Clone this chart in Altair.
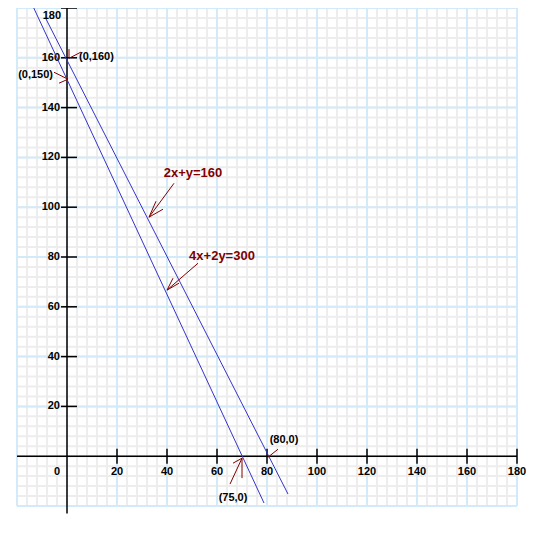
import altair as alt
import pandas as pd

# ---------------- data ----------------
# grid
minor_ticks = list(range(-20, 181, 4))
major_ticks = list(range(-20, 181, 20))
axis_ticks = [20, 40, 60, 80, 100, 120, 140, 160, 180]
x_labels = ["20", "40", "60", "80", "100", "120", "140", "160", "180"]
y_labels = ["20", "40", "60", "80", "100", "120", "140", "160", "180"]

# the two drawn lines (end points)
line_names = ["4x+2y=300", "4x+2y=300", "2x+y=160", "2x+y=160"]
line_x = [-14.4, 78.8, -8.4, 88.4]
line_y = [182.4, -18.8, 175.6, -15.2]

# annotation arrows: segments (x1, y1) -> (x2, y2)
arrow_x1 = [0.8, 0.8, 0.4, 0.4, 70.0, 70.0, 70.0, 80.4, 32.8, 32.8, 32.8, 40.0, 40.0, 40.0]
arrow_y1 = [159.8, 159.8, 151.4, 151.4, -0.8, -0.8, -0.8, -0.4, 96.0, 96.0, 96.0, 66.7, 66.7, 66.7]
arrow_x2 = [0.8, 5.6, -5.2, -3.2, 65.2, 70.0, 66.4, 84.4, 42.8, 35.6, 38.4, 52.4, 42.4, 44.8]
arrow_y2 = [163.5, 162.3, 154.2, 149.8, -11.2, -8.8, -2.8, 2.8, 109.6, 102.4, 99.2, 77.5, 71.5, 69.5]

# point labels
pt_text = ["(0,160)", "(0,150)", "(75,0)", "(80,0)"]
pt_x = [4.8, -5.6, 66.4, 86.8]
pt_y = [160.2, 153.0, -16.9, 6.4]
pt_align = ["left", "right", "center", "center"]

# equation labels
eq_text = ["2x+y=160", "4x+2y=300"]
eq_x = [50.4, 62.0]
eq_y = [113.7, 80.3]

# ---------------- chart ----------------
XS = alt.Scale(domain=[-20, 180], nice=False, zero=False)
YS = alt.Scale(domain=[-20, 180], nice=False, zero=False)
FONT = "Liberation Sans"


def X(f):
    return alt.X(f, type="quantitative", scale=XS, axis=None)


def Y(f):
    return alt.Y(f, type="quantitative", scale=YS, axis=None)


def grid_layer(vals, color, width):
    dv = pd.DataFrame({"v": vals, "lo": -20, "hi": 180})
    v = alt.Chart(dv).mark_rule(color=color, strokeWidth=width).encode(
        x=X("v"), y=Y("lo"), y2="hi")
    h = alt.Chart(dv).mark_rule(color=color, strokeWidth=width).encode(
        y=Y("v"), x=X("lo"), x2="hi")
    return v + h


minor = grid_layer(minor_ticks, "#ededed", 2)
major = grid_layer(major_ticks, "#d3eaf8", 2)

axes_df = pd.DataFrame({"x1": [-20, 0], "y1": [0, 180], "x2": [180, 0], "y2": [0, -23]})
axes = alt.Chart(axes_df).mark_rule(color="black", strokeWidth=1.5).encode(
    x=X("x1"), y=Y("y1"), x2="x2", y2="y2")

tk = pd.DataFrame({"v": axis_ticks, "xl": x_labels, "yl": y_labels,
                   "lo_x": -2.4, "hi_x": 4.0, "lo_y": -3.0, "hi_y": 3.0, "zero": 0})
yticks = alt.Chart(tk).mark_rule(color="black", strokeWidth=1.5).encode(
    y=Y("v"), x=X("lo_x"), x2="hi_x")
xticks = alt.Chart(tk).mark_rule(color="black", strokeWidth=1.5).encode(
    x=X("v"), y=Y("lo_y"), y2="hi_y")

xlab = alt.Chart(tk).mark_text(font=FONT, fontSize=11, fontWeight="bold", color="black",
                               align="center", baseline="middle", dy=16).encode(
    x=X("v"), y=Y("zero"), text="xl:N")
ylab = alt.Chart(tk[tk["v"] < 180]).mark_text(
    font=FONT, fontSize=11, fontWeight="bold", color="black",
    align="right", baseline="middle", dx=-7).encode(
    x=X("zero"), y=Y("v"), text="yl:N")
ylab_top = alt.Chart(tk[tk["v"] == 180]).mark_text(
    font=FONT, fontSize=11, fontWeight="bold", color="black",
    align="right", baseline="top", dx=-6, dy=2).encode(
    x=X("zero"), y=Y("v"), text="yl:N")
origin = alt.Chart(pd.DataFrame({"z": [0], "t": ["0"]})).mark_text(
    font=FONT, fontSize=11, fontWeight="bold", color="black",
    align="center", baseline="middle", dx=-10, dy=16).encode(
    x=X("z"), y=Y("z"), text="t:N")

ld = pd.DataFrame({"name": line_names, "x": line_x, "y": line_y})
lines = alt.Chart(ld).mark_line(color="#3333cc", strokeWidth=1).encode(
    x=X("x"), y=Y("y"), detail="name:N")

ad = pd.DataFrame({"x1": arrow_x1, "y1": arrow_y1, "x2": arrow_x2, "y2": arrow_y2})
arrows = alt.Chart(ad).mark_rule(color="#800000", strokeWidth=1).encode(
    x=X("x1"), y=Y("y1"), x2="x2", y2="y2")

pd_df = pd.DataFrame({"t": pt_text, "x": pt_x, "y": pt_y, "a": pt_align})
pt_layers = []
for al in ["left", "right", "center"]:
    pt_layers.append(
        alt.Chart(pd_df[pd_df["a"] == al]).mark_text(
            font=FONT, fontSize=11, fontWeight="bold", color="black",
            align=al, baseline="middle").encode(x=X("x"), y=Y("y"), text="t:N"))

ed = pd.DataFrame({"t": eq_text, "x": eq_x, "y": eq_y})
eqs = alt.Chart(ed).mark_text(font=FONT, fontSize=13, fontWeight="bold", color="#800000",
                              align="center", baseline="middle").encode(
    x=X("x"), y=Y("y"), text="t:N")

chart = alt.layer(minor, major, axes, yticks, xticks, xlab, ylab, ylab_top, origin, lines,
                  arrows, *pt_layers, eqs).properties(
    width=500, height=498,
    autosize=alt.AutoSizeParams(type="none"),
    padding={"left": 9, "top": 0, "right": 17, "bottom": 22},
    background="white",
).configure_view(stroke=None)

chart.save("out.html", embed_options={"renderer": "svg", "actions": False})
